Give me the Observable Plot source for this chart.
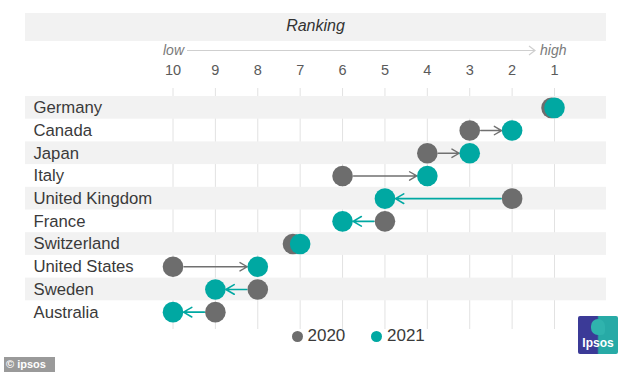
<!DOCTYPE html>
<html>
<head>
<meta charset="utf-8">
<script src="https://cdn.jsdelivr.net/npm/d3@7"></script>
<script src="https://cdn.jsdelivr.net/npm/@observablehq/plot@0.6"></script>
<style>
  html, body { margin: 0; padding: 0; background: #fff; }
  body { font-family: "Liberation Sans", Arial, sans-serif; }
  #wrap { position: relative; width: 634px; height: 373px; overflow: hidden; }
  #chart { position: absolute; left: 0; top: 0; }
  .abs { position: absolute; }
</style>
</head>
<body>
<div id="wrap">
  <div id="chart"></div>
  <div class="abs" style="left:25px;top:13px;width:581px;height:28px;background:#f2f2f2;"></div>
  <div class="abs" style="left:25px;top:17px;width:581px;text-align:center;font-style:italic;font-size:16px;color:#333;">Ranking</div>
  <div class="abs" style="left:130px;top:42px;width:54px;text-align:right;font-style:italic;font-size:14px;color:#7a7a7a;">low</div>
  <svg class="abs" style="left:185px;top:44px;" width="354" height="14">
    <line x1="2" y1="6.5" x2="350" y2="6.5" stroke="#cfcfcf" stroke-width="1.2"/>
    <path d="M344,2 L350,6.5 L344,11" fill="none" stroke="#cfcfcf" stroke-width="1.2"/>
  </svg>
  <div class="abs" style="left:540px;top:42px;font-style:italic;font-size:14px;color:#7a7a7a;">high</div>

  <div id="legend" class="abs" style="left:0;top:325px;width:634px;height:22px;"></div>

  <div class="abs" style="left:578px;top:316px;width:40px;height:38px;border-radius:2px;overflow:hidden;background:linear-gradient(90deg,#3b3a97 0%,#3b3a97 48%,#27aaa6 52%,#27aaa6 100%);">
    <div class="abs" style="left:13px;top:3px;width:14px;height:16px;border-radius:7px 7px 4px 7px;background:#2fb3ad;"></div>
    <div class="abs" style="left:0;top:20px;width:40px;text-align:center;color:#fff;font-weight:bold;font-size:12px;">Ipsos</div>
  </div>
  <div class="abs" style="left:4px;top:357px;width:51px;height:15px;background:#9a9a9a;color:#fff;font-weight:bold;font-size:11px;line-height:15px;padding-left:2px;box-sizing:border-box;">© ipsos</div>
</div>
<script>
const countries = ["Germany","Canada","Japan","Italy","United Kingdom","France","Switzerland","United States","Sweden","Australia"];
const rank2020 = [1.07, 3, 4, 6, 2, 5, 7.17, 10, 8, 9];
const rank2021 = [1, 2, 3, 4, 5, 6, 7, 8, 9, 10];
const tickValues = [10, 9, 8, 7, 6, 5, 4, 3, 2, 1];
const seriesNames = ["2020", "2021"];

const GRAY = "#6d6d6d";
const TEAL = "#00a8a2";

const data = countries.map((c, i) => ({country: c, r2020: rank2020[i], r2021: rank2021[i], i}));
const moved = data.filter(d => Math.abs(d.r2020 - d.r2021) >= 0.5);
const up = moved.filter(d => d.r2021 < d.r2020);
const down = moved.filter(d => d.r2021 > d.r2020);

const chart = Plot.plot({
  width: 634,
  height: 373,
  marginTop: 96,
  marginBottom: 50,
  marginLeft: 25,
  marginRight: 28,
  style: {fontFamily: "Liberation Sans, Arial, sans-serif", background: "transparent"},
  x: {domain: [10, 1], range: [172.5, 554], axis: null},
  y: {domain: countries, padding: 0, round: false, axis: null},
  marks: [
    Plot.ruleX(tickValues, {x: d => d, stroke: "#e2e2e2", strokeWidth: 1, insetTop: -8, insetBottom: -6}),
    Plot.cell(data.filter(d => d.i % 2 === 0), {y: "country", fill: "#f2f2f2"}),
    Plot.text(tickValues, {x: d => d, frameAnchor: "top", lineAnchor: "bottom", dy: -22, text: d => String(d), fontSize: 14.5, fill: "#5a5a5a"}),
    Plot.text(countries, {y: d => d, frameAnchor: "left", textAnchor: "start", dx: 8, text: d => d, fontSize: 16.7, fill: "#3a3a3a"}),
    Plot.arrow(up, {x1: "r2020", x2: "r2021", y: "country", stroke: "#707070", strokeWidth: 1.4, insetStart: 11, insetEnd: 10.5, headLength: 9}),
    Plot.arrow(down, {x1: "r2020", x2: "r2021", y: "country", stroke: TEAL, strokeWidth: 1.6, insetStart: 11, insetEnd: 10.5, headLength: 9}),
    Plot.dot(data, {x: "r2020", y: "country", r: 10.3, fill: GRAY}),
    Plot.dot(data, {x: "r2021", y: "country", r: 10.3, fill: TEAL})
  ]
});
document.getElementById("chart").appendChild(chart);

// legend
const legend = document.getElementById("legend");
const colors = [GRAY, TEAL];
const lx = [291.5, 371];
seriesNames.forEach((name, k) => {
  const sw = document.createElement("div");
  sw.className = "abs";
  sw.style.cssText = `left:${lx[k]}px;top:5.5px;width:11px;height:11px;border-radius:50%;background:${colors[k]};`;
  legend.appendChild(sw);
  const t = document.createElement("div");
  t.className = "abs";
  t.style.cssText = `left:${lx[k] + 16}px;top:1px;font-size:17px;color:#3a3a3a;`;
  t.textContent = name;
  legend.appendChild(t);
});
</script>
</body>
</html>
